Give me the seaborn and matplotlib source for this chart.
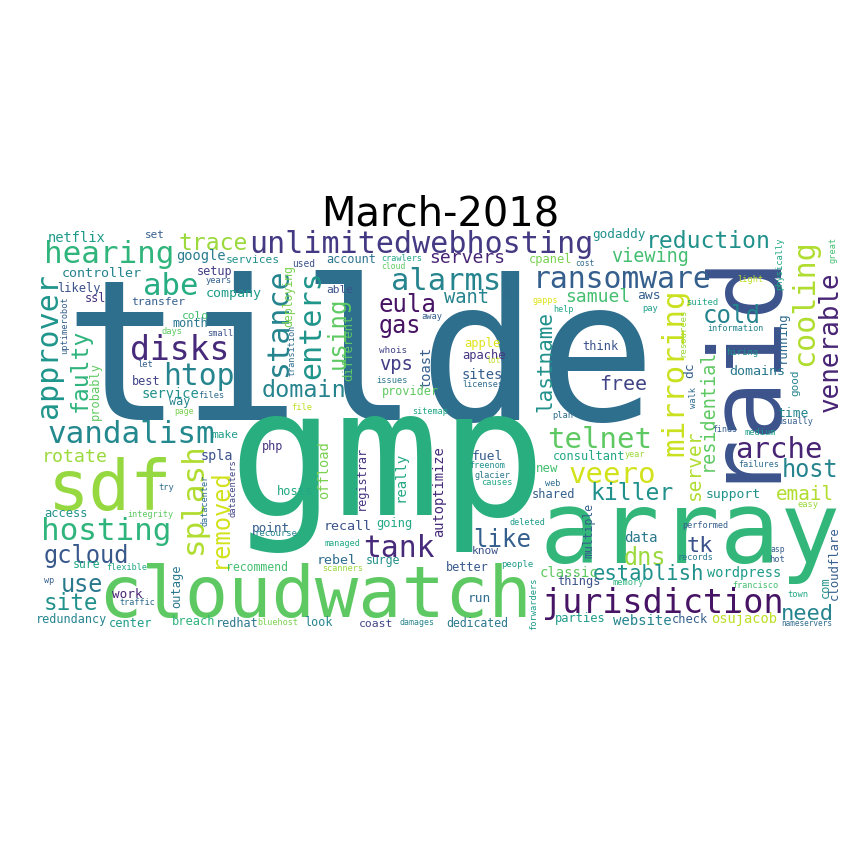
import matplotlib
matplotlib.use("Agg")
import matplotlib.pyplot as plt
import seaborn as sns

# word cloud for March-2018, words / layout
words = [
    "tilde", "gmp", "array", "raid", "cloudwatch", "sdf", "jurisdiction", "unlimitedwebhosting",
    "disks", "vandalism", "hearing", "hosting", "ransomware", "alarms", "htop", "abe",
    "tank", "arche", "veero", "telnet", "approver", "stance", "enters", "cooling",
    "splash", "mirroring", "venerable", "eula", "gas", "domain", "using", "removed",
    "faulty", "lastname", "trace", "reduction", "cold", "gcloud", "use", "site",
    "like", "killer", "dns", "tk", "host", "need", "establish", "email",
    "free", "server", "residential", "servers", "viewing", "samuel", "want", "rotate",
    "vps", "netflix", "google", "controller", "company", "service", "spla", "offload",
    "autoptimize", "really", "rebel", "recall", "fuel", "sites", "toast", "data",
    "classic", "wordpress", "website", "osujacob", "time", "domains", "support", "aws",
    "dc", "godaddy", "point", "work", "sure", "likely", "access", "probably",
    "outage", "redundancy", "center", "breach", "redhat", "look", "coast", "dedicated",
    "recommend", "surge", "going", "hosts", "php", "registrar", "better", "run",
    "know", "new", "shared", "consultant", "multiple", "things", "parties", "check",
    "cloudflare", "com", "running", "good", "think", "apple", "apache", "provider",
    "deploying", "different", "setup", "ssl", "transfer", "colo", "month", "best",
    "way", "make", "services", "account", "able", "cpanel", "set", "used",
    "crawlers", "cloud", "years", "uptimerobot", "transition", "away", "based", "whois",
    "issues", "file", "sitemap", "days", "small", "let", "files", "page",
    "datacenters", "datacenter", "try", "integrity", "flexible", "wp", "traffic", "bluehost",
    "damages", "scanners", "managed", "recourse", "freenom", "glacier", "causes", "people",
    "deleted", "web", "forwarders", "plan", "lot", "licenses", "gapps", "help",
    "cost", "pay", "suited", "light", "information", "resources", "hiring", "physically",
    "great", "walk", "usually", "finds", "medium", "failures", "easy", "performed",
    "asp", "records", "hot", "memory", "francisco", "town", "nameservers", "year",
]

word_x = [
    360, 387, 690, 764, 315, 110, 663, 421,
    180, 131, 109, 106, 622, 446, 199, 171,
    399, 779, 612, 600, 57, 287, 320, 813,
    202, 683, 838, 407, 400, 304, 345, 227,
    87, 551, 213, 708, 732, 86, 82, 71,
    502, 632, 645, 700, 810, 807, 648, 805,
    623, 700, 713, 467, 650, 598, 466, 75,
    396, 77, 201, 102, 234, 170, 217, 328,
    443, 405, 337, 348, 488, 482, 430, 641,
    569, 744, 642, 744, 793, 757, 733, 649,
    693, 619, 271, 127, 87, 79, 66, 99,
    180, 72, 131, 194, 237, 318, 376, 477,
    257, 383, 394, 295, 273, 365, 467, 479,
    485, 547, 554, 589, 592, 579, 580, 690,
    838, 829, 786, 798, 600, 482, 484, 410,
    292, 352, 215, 95, 158, 195, 190, 146,
    180, 225, 253, 351, 340, 551, 155, 304,
    402, 393, 219, 67, 294, 432, 509, 393,
    392, 302, 430, 172, 220, 145, 211, 184,
    236, 208, 166, 150, 127, 49, 137, 278,
    417, 343, 342, 276, 487, 492, 497, 517,
    527, 553, 536, 563, 494, 483, 545, 563,
    585, 650, 702, 750, 735, 685, 742, 782,
    836, 696, 795, 725, 760, 759, 808, 705,
    778, 695, 777, 628, 755, 798, 807, 635,
]

word_y = [
    420, 515, 563, 362, 617, 510, 613, 253,
    360, 443, 263, 540, 288, 290, 385, 295,
    557, 458, 483, 448, 345, 322, 325, 303,
    498, 372, 342, 312, 333, 397, 333, 518,
    370, 361, 250, 248, 323, 563, 592, 610,
    547, 500, 565, 552, 477, 620, 580, 500,
    390, 465, 410, 263, 262, 302, 303, 462,
    370, 242, 260, 277, 297, 398, 460, 470,
    492, 477, 564, 530, 460, 379, 367, 542,
    577, 577, 625, 623, 417, 375, 498, 299,
    370, 238, 532, 598, 568, 292, 517, 391,
    586, 623, 627, 625, 627, 626, 627, 627,
    571, 564, 527, 495, 450, 478, 571, 602,
    554, 472, 498, 460, 530, 585, 622, 623,
    563, 587, 337, 383, 350, 347, 359, 395,
    296, 348, 275, 302, 305, 319, 327, 385,
    405, 438, 263, 263, 293, 263, 238, 267,
    261, 269, 283, 325, 350, 319, 286, 353,
    383, 410, 414, 334, 336, 367, 398, 414,
    488, 500, 490, 517, 570, 583, 605, 625,
    625, 571, 546, 536, 468, 478, 485, 567,
    525, 486, 604, 418, 363, 387, 303, 312,
    266, 311, 305, 282, 331, 333, 355, 264,
    250, 398, 424, 432, 435, 467, 507, 528,
    552, 560, 562, 585, 588, 597, 626, 457,
]

weights = [
    197, 176, 100, 100, 72, 69, 33.5, 30,
    33, 31, 31, 31, 29.7, 30.5, 29.6, 30.6,
    29.6, 29, 29, 29, 30, 30, 30, 30,
    31, 31, 26, 24, 23.5, 23.4, 24, 23.6,
    23, 21, 23, 23, 24, 23.7, 23.5, 22.6,
    24, 23, 23.5, 22, 23.5, 22, 20.5, 19.3,
    20, 19.5, 18.5, 18, 18.5, 18, 18.7, 18.3,
    18.8, 13.7, 13.7, 13.4, 13.4, 13.7, 13.5, 13.7,
    13.7, 14, 13.4, 13.4, 13, 13.8, 13.8, 14,
    14, 13.6, 14, 13.8, 13, 13.4, 13, 13,
    13, 12.7, 12.7, 12.6, 11.5, 12, 12, 12,
    12, 11.7, 12, 12, 11.7, 11.7, 11.4, 11.5,
    11.5, 11.5, 12, 12, 11.8, 11.9, 11.7, 12.9,
    11.3, 12.4, 12, 12, 11.5, 12, 12, 12,
    12.2, 12, 12.2, 11, 12, 12, 12, 11.7,
    11.5, 12.3, 11.7, 11.8, 11.3, 11.3, 11.7, 11.7,
    11.8, 11.3, 11.3, 11.7, 11.3, 12, 11, 9.5,
    8.5, 8, 8.6, 8.6, 8.5, 8.7, 8.6, 9.3,
    8.6, 8.7, 8.5, 8.7, 8.6, 8.8, 8.6, 8,
    8.8, 8.5, 8.8, 8.5, 8.5, 8.5, 8.5, 8.5,
    8.3, 8.5, 8.5, 8.9, 8.5, 8.5, 8.6, 8.9,
    8.5, 8.5, 8.8, 8.7, 8, 8.5, 8.5, 8.5,
    8, 8.8, 8.9, 8.6, 8.5, 8.9, 8.9, 8.8,
    8.6, 8.8, 8.5, 8.3, 8.6, 8.5, 8.7, 8.5,
    8, 8.5, 8.8, 8.6, 8.5, 8.7, 7.8, 8.5,
]

vertical = [
    0, 0, 0, 1, 0, 0, 0, 0,
    0, 0, 0, 0, 0, 0, 0, 0,
    0, 0, 0, 0, 1, 1, 1, 1,
    1, 1, 1, 0, 0, 0, 1, 1,
    1, 1, 0, 0, 0, 0, 0, 0,
    0, 0, 0, 0, 0, 0, 0, 0,
    0, 1, 1, 0, 0, 0, 0, 0,
    0, 0, 0, 0, 0, 0, 0, 1,
    1, 1, 0, 0, 0, 0, 1, 0,
    0, 0, 0, 0, 0, 0, 0, 0,
    1, 0, 0, 0, 0, 0, 0, 1,
    1, 0, 0, 0, 0, 0, 0, 0,
    0, 0, 0, 0, 0, 1, 0, 0,
    0, 0, 0, 0, 1, 0, 0, 0,
    1, 1, 1, 1, 0, 0, 0, 0,
    1, 1, 0, 0, 0, 0, 0, 0,
    0, 0, 0, 0, 0, 0, 0, 0,
    0, 0, 0, 1, 1, 0, 1, 0,
    0, 0, 0, 0, 0, 0, 0, 0,
    1, 1, 0, 0, 0, 0, 0, 0,
    0, 0, 0, 0, 0, 0, 0, 0,
    0, 0, 1, 0, 0, 0, 0, 0,
    0, 0, 0, 0, 0, 1, 0, 1,
    1, 1, 0, 0, 0, 0, 0, 0,
    0, 0, 0, 0, 0, 0, 0, 0,
]

shades = [
    .36, .63, .66, .25, .75, .84, .05, .17,
    .12, .47, .65, .65, .30, .45, .45, .62,
    .12, .10, .93, .75, .52, .45, .52, .88,
    .88, .92, .10, .05, .05, .45, .75, .93,
    .65, .50, .85, .50, .45, .27, .40, .50,
    .30, .50, .85, .25, .45, .45, .50, .88,
    .20, .88, .75, .10, .70, .70, .45, .85,
    .18, .55, .42, .45, .55, .50, .25, .80,
    .12, .60, .35, .25, .30, .30, .30, .40,
    .75, .55, .45, .90, .45, .40, .50, .30,
    .30, .50, .30, .10, .60, .25, .50, .75,
    .40, .45, .55, .65, .40, .45, .20, .40,
    .70, .50, .60, .60, .15, .15, .27, .35,
    .25, .70, .30, .60, .30, .25, .55, .30,
    .30, .50, .35, .45, .25, .95, .15, .75,
    .80, .75, .18, .15, .30, .70, .40, .20,
    .45, .55, .50, .38, .25, .80, .30, .25,
    .60, .75, .30, .30, .35, .30, .35, .20,
    .40, .90, .60, .75, .25, .30, .35, .80,
    .20, .35, .35, .75, .60, .30, .35, .80,
    .45, .85, .60, .45, .50, .40, .60, .55,
    .55, .35, .55, .35, .90, .35, .95, .60,
    .35, .55, .60, .90, .45, .85, .50, .60,
    .70, .35, .30, .30, .55, .35, .85, .30,
    .30, .40, .30, .65, .70, .60, .35, .85,
]

sns.set_theme(style="white")
cmap = sns.color_palette("viridis", as_cmap=True)

fig = plt.figure(figsize=(12, 12), dpi=72)
ax = fig.add_axes([40 / 864, 232 / 864, 800 / 864, 400 / 864])
ax.set_xlim(40, 840)
ax.set_ylim(632, 232)
ax.axis("off")

for w, x, y, s, v, c in zip(words, word_x, word_y, weights, vertical, shades):
    ax.text(x, y, w, fontsize=s, family="DejaVu Sans Mono", color=cmap(c),
            rotation=90 if v else 0, rotation_mode="anchor",
            ha="center", va="baseline")

ax.set_title("March-2018", fontsize=40, pad=6, color="black")

fig.savefig("out.png", dpi=72)
